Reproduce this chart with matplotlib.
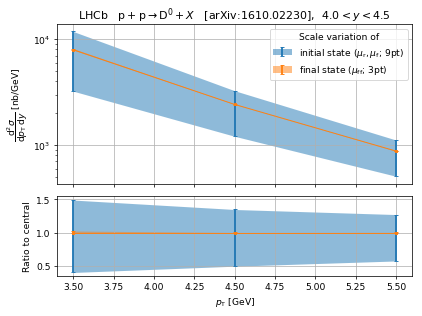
import matplotlib
matplotlib.use('Agg')
import matplotlib.pyplot as plt
import numpy as np

# data
pt = [3.5, 4.5, 5.5]
central = [7950, 2420, 877]
# initial state scale variation (mu_r, mu_f; 9pt)
init_hi = [11830, 3260, 1115]
init_lo = [3230, 1210, 507]
# final state scale variation (mu_ff; 3pt)
fin_hi = [8150, 2430, 882]
fin_lo = [7900, 2415, 874]

central = np.array(central)

fig, (ax, axr) = plt.subplots(2, 1, figsize=(6.4, 4.8), dpi=66, sharex=True,
                              gridspec_kw={'height_ratios': [2, 1]})
fig.subplots_adjust(left=0.135, right=0.976, top=0.921, bottom=0.126, hspace=0.108)

handles = []
for a, norm in [(ax, np.ones(3)), (axr, central)]:
    hs = []
    for lo, hi, c in [(init_lo, init_hi, 'C0'), (fin_lo, fin_hi, 'C1')]:
        lo = np.array(lo) / norm
        hi = np.array(hi) / norm
        mid = central / norm
        band = a.fill_between(pt, lo, hi, color=c, alpha=0.5, lw=0)
        eb = a.errorbar(pt, mid, yerr=[mid - lo, hi - mid], fmt='none',
                        ecolor=c, elinewidth=2, capsize=2)
        hs.append((band, eb))
    a.plot(pt, central / norm, color='C1', lw=1, marker='s', ms=3)
    a.grid(True)
    handles = hs

ax.set_yscale('log')
ax.set_ylabel(r'$\dfrac{\mathrm{d}^2\sigma}{\mathrm{d}p_\mathrm{T}\,\mathrm{d}y}$ [nb/GeV]')
ax.set_title(r'LHCb   $\mathrm{p}+\mathrm{p}\to\mathrm{D}^0+X$   [arXiv:1610.02230],  $4.0<y<4.5$')
ax.legend(handles, [r'initial state ($\mu_\mathrm{r},\mu_\mathrm{f}$; 9pt)',
                    r'final state ($\mu_\mathrm{ff}$; 3pt)'],
          title='Scale variation of', loc='upper right')
ax.tick_params(labelbottom=False)

axr.set_ylabel('Ratio to central')
axr.set_xlabel(r'$p_\mathrm{T}$ [GeV]')

fig.savefig('out.png')
